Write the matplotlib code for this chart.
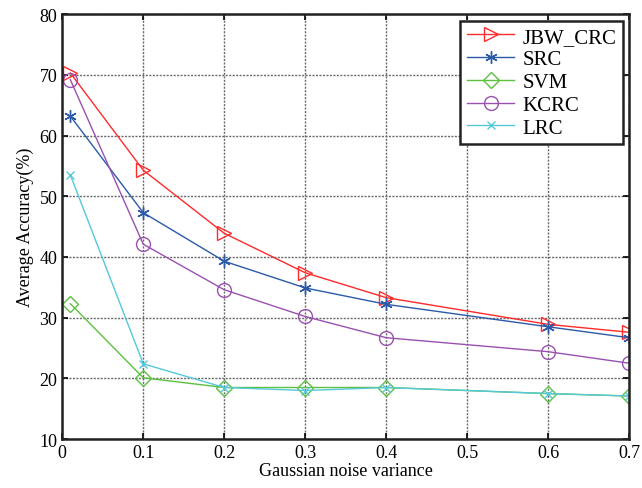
import matplotlib
matplotlib.use("Agg")
import matplotlib.pyplot as plt

x = [0.01, 0.1, 0.2, 0.3, 0.4, 0.6, 0.7]
jbw_crc = [70.3, 54.3, 43.9, 37.4, 33.3, 28.9, 27.6]
src = [63.2, 47.3, 39.3, 34.9, 32.2, 28.5, 26.7]
svm = [32.3, 20.1, 18.5, 18.5, 18.5, 17.5, 17.1]
kcrc = [69.2, 42.1, 34.6, 30.2, 26.7, 24.4, 22.5]
lrc = [53.5, 22.4, 18.5, 18.0, 18.5, 17.5, 17.1]
xticks = [0, 0.1, 0.2, 0.3, 0.4, 0.5, 0.6, 0.7]
xticklabels = ["0", "0.1", "0.2", "0.3", "0.4", "0.5", "0.6", "0.7"]
yticks = [10, 20, 30, 40, 50, 60, 70, 80]

plt.rcParams['font.family'] = ['Liberation Serif', 'DejaVu Serif']

fig = plt.figure(figsize=(6.42, 4.89), dpi=100)
ax = fig.add_axes([0.097, 0.100, 0.883, 0.869])

ax.plot(x, jbw_crc, color='#ff2a2a', marker='>', mfc='none', ms=10, mew=1.0, lw=1.0, label='JBW_CRC')
ax.plot(x, src, color='#2a5aa8', marker=(6, 2, 0), ms=9, mew=1.0, lw=1.0, label='SRC')
ax.plot(x, svm, color='#5cc040', marker='D', mfc='none', ms=8, mew=1.0, lw=1.0, label='SVM')
ax.plot(x, kcrc, color='#9a50b0', marker='o', mfc='none', ms=10, mew=1.0, lw=1.0, label='KCRC')
ax.plot(x, lrc, color='#55c8dc', marker='x', ms=6, mew=1.0, lw=1.0, label='LRC')

ax.set_xlim(0, 0.7)
ax.set_ylim(10, 80)
ax.set_xticks(xticks)
ax.set_xticklabels(xticklabels)
ax.set_yticks(yticks)
ax.tick_params(direction='in', labelsize=13, length=4, width=1.2, top=True, right=True)
ax.grid(True, color='#6a6a6a', linestyle=(0, (1.5, 1)), linewidth=1.0)
for s in ax.spines.values():
    s.set_linewidth(1.8)
    s.set_color('#222222')

ax.set_xlabel('Gaussian noise variance', fontsize=13, labelpad=1)
ax.set_ylabel('Average Accuracy(%)', fontsize=13, labelpad=4)

leg = ax.legend(loc='upper right', bbox_to_anchor=(0.989, 0.984), borderaxespad=0,
                fontsize=15, handlelength=2.3, handletextpad=0.4, borderpad=0.3,
                labelspacing=0.15, fancybox=False, framealpha=1, edgecolor='#222222')
leg.get_frame().set_linewidth(1.8)

fig.savefig('out.png', dpi=100)
